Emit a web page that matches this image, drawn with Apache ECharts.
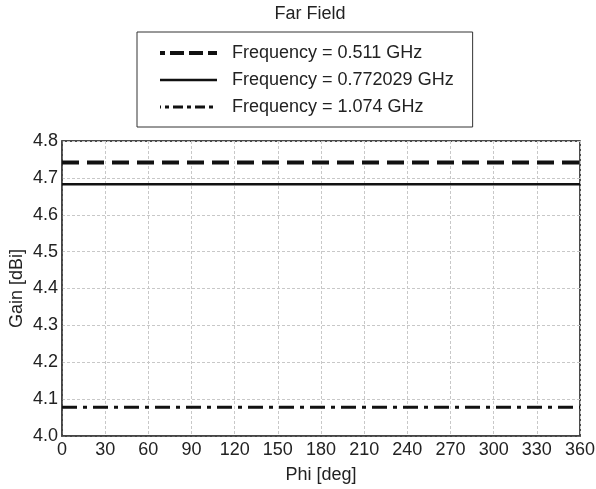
<!DOCTYPE html>
<html>
<head>
<meta charset="utf-8">
<script src="https://cdn.jsdelivr.net/npm/echarts@6/dist/echarts.min.js"></script>
<style>
  html, body { margin: 0; padding: 0; background: #fff; }
  #main { width: 596px; height: 489px; }
</style>
</head>
<body>
<div id="main"></div>
<script>
/*
 * Far field gain vs phi, three frequencies
 */
var phiDeg = [0, 30, 60, 90, 120, 150, 180, 210, 240, 270, 300, 330, 360];
var gain0511 = [4.742, 4.742, 4.742, 4.742, 4.742, 4.742, 4.742, 4.742, 4.742, 4.742, 4.742, 4.742, 4.742];
var gain0772 = [4.683, 4.683, 4.683, 4.683, 4.683, 4.683, 4.683, 4.683, 4.683, 4.683, 4.683, 4.683, 4.683];
var gain1074 = [4.078, 4.078, 4.078, 4.078, 4.078, 4.078, 4.078, 4.078, 4.078, 4.078, 4.078, 4.078, 4.078];
var seriesNames = ['Frequency = 0.511 GHz', 'Frequency = 0.772029 GHz', 'Frequency = 1.074 GHz'];

var FONT = 'Liberation Sans';

function pairUp(xs, ys) {
	var out = [];
	for (var i = 0; i < xs.length; i++) {
		out.push([xs[i], ys[i]]);
	}
	return out;
}

var chart = echarts.init(document.getElementById('main'));
var option = {
	backgroundColor: '#fff',
	animation: false,
	title: {
		text: 'Far Field',
		left: 305,
		textAlign: 'center',
		top: 0,
		textStyle: { fontFamily: FONT, fontSize: 18, fontWeight: 'normal', color: '#222' }
	},
	legend: {
		orient: 'vertical',
		left: 137,
		top: 32,
		padding: [12, 19, 11, 21],
		itemGap: 9,
		itemWidth: 57,
		itemHeight: 14,
		borderColor: '#333',
		borderWidth: 1,
		itemStyle: { opacity: 0, borderWidth: 0 },
		textStyle: { fontFamily: FONT, fontSize: 18, color: '#222', padding: [0, 0, 0, 10] },
		data: [
			{ name: seriesNames[0], lineStyle: { width: 4, type: [14, 5], dashOffset: 9 } },
			{ name: seriesNames[1], lineStyle: { width: 2.5 } },
			{ name: seriesNames[2], lineStyle: { width: 3, type: [10, 4, 4, 4] } }
		]
	},
	grid: {
		left: 62,
		right: 16,
		top: 141,
		bottom: 53,
		outerBoundsMode: 'none',
		show: true,
		borderColor: '#111',
		borderWidth: 1.5
	},
	xAxis: {
		type: 'value',
		min: 0,
		max: 360,
		interval: 30,
		name: 'Phi [deg]',
		nameLocation: 'middle',
		nameGap: 30,
		nameMoveOverlap: false,
		nameTextStyle: { fontFamily: FONT, fontSize: 18, color: '#222' },
		axisLine: { show: true, lineStyle: { color: '#444', width: 1.5 } },
		axisTick: { show: false },
		axisLabel: { fontFamily: FONT, fontSize: 18, color: '#222', margin: 5 },
		splitLine: { show: true, lineStyle: { color: '#c8c8c8', type: [3, 2], width: 1 } }
	},
	yAxis: {
		type: 'value',
		min: 4.0,
		max: 4.8,
		interval: 0.1,
		name: 'Gain [dBi]',
		nameLocation: 'middle',
		nameGap: 36,
		nameMoveOverlap: false,
		nameTextStyle: { fontFamily: FONT, fontSize: 18, color: '#222' },
		axisLine: { show: true, lineStyle: { color: '#444', width: 1.5 } },
		axisTick: { show: false },
		axisLabel: {
			fontFamily: FONT, fontSize: 18, color: '#222', margin: 4,
			formatter: function (v) { return v.toFixed(1); }
		},
		splitLine: { show: true, lineStyle: { color: '#c8c8c8', type: [3, 2], width: 1 } }
	},
	series: [
		{
			name: seriesNames[0],
			type: 'line',
			symbol: 'none',
			data: pairUp(phiDeg, gain0511),
			itemStyle: { color: '#111' },
			lineStyle: { color: '#111', width: 4, type: [17, 8] }
		},
		{
			name: seriesNames[1],
			type: 'line',
			symbol: 'none',
			data: pairUp(phiDeg, gain0772),
			itemStyle: { color: '#111' },
			lineStyle: { color: '#111', width: 2.5, type: 'solid' }
		},
		{
			name: seriesNames[2],
			type: 'line',
			symbol: 'none',
			data: pairUp(phiDeg, gain1074),
			itemStyle: { color: '#111' },
			lineStyle: { color: '#111', width: 3, type: [15, 6, 4, 6] }
		}
	]
};
chart.setOption(option);
</script>
</body>
</html>
